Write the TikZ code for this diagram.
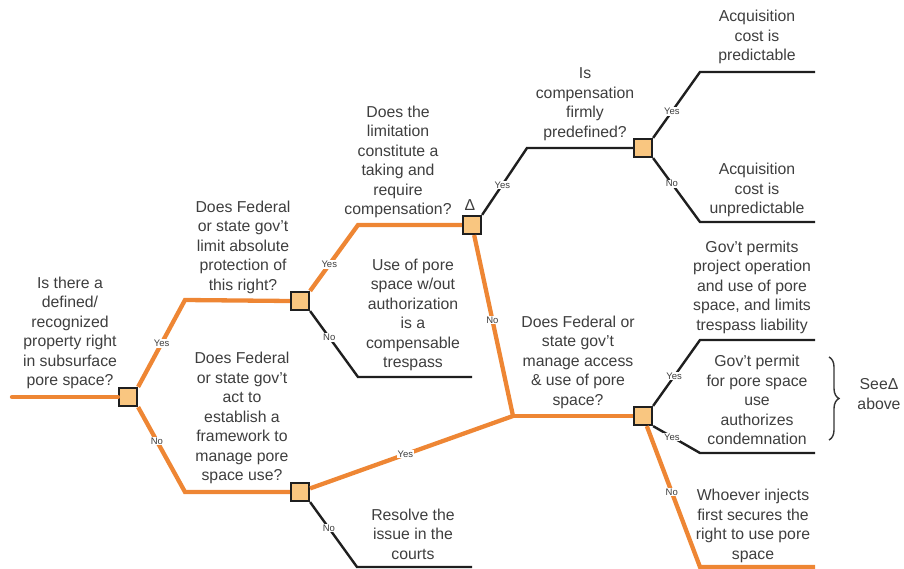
\documentclass[tikz,border=0pt]{standalone}
\usepackage{fontspec}
\setmainfont{Liberation Sans}
\usetikzlibrary{decorations.pathreplacing}
\definecolor{branch}{RGB}{238,134,52}
\definecolor{boxfill}{RGB}{249,198,128}
\definecolor{ink}{RGB}{62,62,62}

\begin{document}
\begin{tikzpicture}[x=1pt, y=-1pt,
  decision/.style={draw=black!88, fill=boxfill, line width=2.2pt, minimum size=18pt, inner sep=0pt},
  live/.style={line width=4.3pt, branch},
  dead/.style={line width=2.4pt, black!88},
  txt/.style={align=center, text=ink, inner sep=0pt, font=\fontsize{15.8}{19.5}\selectfont},
  ans/.style={fill=white, inner sep=0.8pt, text=ink, font=\fontsize{9.5}{10}\selectfont}]

  \useasboundingbox (0,0) rectangle (904,569);

  \node[decision] (q1) at (128,397) {};
  \node[decision] (q2) at (300,301) {};
  \node[decision] (q3) at (300,492) {};
  \node[decision] (q4) at (472,225) {};
  \node[decision] (q5) at (643,148) {};
  \node[decision] (q6) at (643,416) {};

  \coordinate (start) at (12,397);
  \coordinate (b1) at (185,300);
  \coordinate (b2) at (185,492);
  \coordinate (b3) at (358,225);
  \coordinate (b4) at (358,377);  \coordinate (e4) at (472,377);
  \coordinate (b5) at (527,148);
  \coordinate (j) at (513,416);
  \coordinate (b6) at (700,72);   \coordinate (e6) at (815,72);
  \coordinate (b7) at (700,222);  \coordinate (e7) at (815,222);
  \coordinate (b8) at (700,340);  \coordinate (e8) at (815,340);
  \coordinate (b9) at (700,453);  \coordinate (e9) at (815,453);
  \coordinate (b10) at (700,567); \coordinate (e10) at (815,567);
  \coordinate (b11) at (357,567); \coordinate (e11) at (472,567);

  % orange path
  \draw[live, line cap=round] (start) -- (q1.west);
  \draw[live] (q1.north east) -- node[ans, pos=0.5] {Yes} (b1) -- (q2.west);
  \draw[live] (q1.south east) -- node[ans, pos=0.4] {No} (b2) -- (q3.west);
  \draw[live] (q2.north east) -- node[ans, pos=0.4] {Yes} (b3) -- (q4.west);
  \draw[live] (q4) -- node[ans, pos=0.47] {No} (j);
  \draw[live] (q3) -- node[ans, pos=0.47] {Yes} (j);
  \draw[live] (j) -- (q6.west);
  \draw[live] (q6) -- node[ans, pos=0.47] {No} (b10) -- (e10);

  % black branches
  \draw[dead] (q2.south east) -- node[ans, pos=0.4] {No} (b4) -- (e4);
  \draw[dead] (q3.south east) -- node[ans, pos=0.4] {No} (b11) -- (e11);
  \draw[dead] (q4.north east) -- node[ans, pos=0.45] {Yes} (b5) -- (q5.west);
  \draw[dead] (q5.north east) -- node[ans, pos=0.4] {Yes} (b6) -- (e6);
  \draw[dead] (q5.south east) -- node[ans, pos=0.4] {No} (b7) -- (e7);
  \draw[dead] (q6.north east) -- node[ans, pos=0.45] {Yes} (b8) -- (e8);
  \draw[dead] (q6.south east) -- node[ans, pos=0.4] {Yes} (b9) -- (e9);

  \node[txt] (t1) at (70,333) {Is there a\\defined/\\recognized\\property right\\in subsurface\\pore space?};
  \node[txt] (t2) at (243,247) {Does Federal\\or state gov't\\limit absolute\\protection of\\this right?};
  \node[txt] (t3) at (242,418) {Does Federal\\or state gov't\\act to\\establish a\\framework to\\manage pore\\space use?};
  \node[txt] (t4) at (398,162) {Does the\\limitation\\constitute a\\taking and\\require\\compensation?};
  \node[txt] (t5) at (413,315) {Use of pore\\space w/out\\authorization\\is a\\compensable\\trespass};
  \node[txt] (t6) at (585,104) {Is\\compensation\\firmly\\predefined?};
  \node[txt] (t7) at (757,37) {Acquisition\\cost is\\predictable};
  \node[txt] (t8) at (757,190) {Acquisition\\cost is\\unpredictable};
  \node[txt] (t9) at (752,287) {Gov't permits\\project operation\\and use of pore\\space, and limits\\trespass liability};
  \node[txt] (t10) at (578,362) {Does Federal or\\state gov't\\manage access\\\& use of pore\\space?};
  \node[txt] (t11) at (757,400) {Gov't permit\\for pore space\\use\\authorizes\\condemnation};
  \node[txt] (t12) at (753,526) {Whoever injects\\first secures the\\right to use pore\\space};
  \node[txt] (t13) at (413,534) {Resolve the\\issue in the\\courts};
  \node[txt] (t14) at (879,394) {SeeΔ\\above};
  \node[txt] (delta) at (470,205) {Δ};

  \draw[line width=1.4pt, black!80, decorate, decoration={brace, amplitude=10pt}] (829,357) -- (829,440);

\end{tikzpicture}
\end{document}
